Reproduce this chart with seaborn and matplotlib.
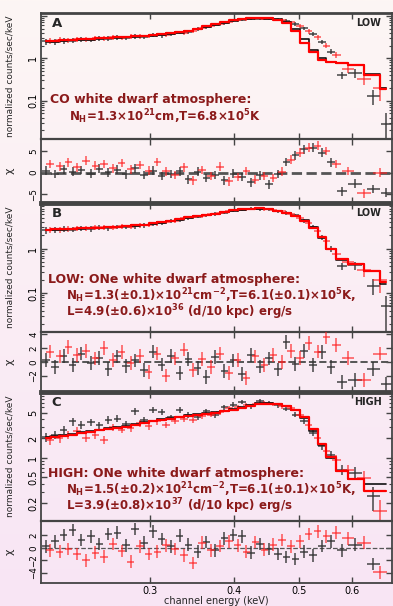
import numpy as np
import seaborn as sns
from matplotlib import pyplot as plt
from matplotlib.ticker import FixedLocator, FixedFormatter, NullLocator, LogLocator, NullFormatter

# channel energies (keV) of the two spectra (black / red)
energy_k = [0.210, 0.2165, 0.223, 0.230, 0.237, 0.245, 0.252, 0.260, 0.268, 0.276,
            0.285, 0.294, 0.303, 0.312, 0.322, 0.332, 0.342, 0.353, 0.364, 0.375,
            0.387, 0.399, 0.411, 0.424, 0.437, 0.451, 0.465, 0.479, 0.494, 0.509,
            0.525, 0.541, 0.558, 0.579, 0.606, 0.645, 0.675]
energy_r = [0.213, 0.220, 0.2265, 0.2335, 0.241, 0.2485, 0.256, 0.264, 0.272, 0.2805,
            0.2895, 0.2985, 0.3075, 0.317, 0.327, 0.337, 0.3475, 0.3585, 0.3695, 0.381,
            0.393, 0.405, 0.4175, 0.4305, 0.444, 0.458, 0.472, 0.4865, 0.5015, 0.517,
            0.533, 0.5495, 0.568, 0.592, 0.625, 0.660]
rel_err_k = [0.16, 0.15, 0.15, 0.14, 0.14, 0.13, 0.13, 0.13, 0.12, 0.12,
             0.12, 0.11, 0.11, 0.11, 0.10, 0.10, 0.10, 0.09, 0.09, 0.09,
             0.09, 0.08, 0.08, 0.08, 0.08, 0.08, 0.08, 0.09, 0.09, 0.10,
             0.11, 0.12, 0.14, 0.18, 0.22, 0.40, 0.75]
rel_err_r = [0.16, 0.15, 0.15, 0.14, 0.14, 0.13, 0.13, 0.13, 0.12, 0.12,
             0.12, 0.11, 0.11, 0.11, 0.10, 0.10, 0.10, 0.09, 0.09, 0.09,
             0.09, 0.08, 0.08, 0.08, 0.08, 0.08, 0.09, 0.09, 0.10, 0.11,
             0.12, 0.14, 0.17, 0.20, 0.30, 0.50]

# panel A: CO white dwarf atmosphere, LOW state
model_a_k = [2.43, 2.47, 2.56, 2.66, 2.71, 2.76, 2.86, 2.96, 3.02, 3.13,
             3.19, 3.30, 3.43, 3.55, 3.75, 4.03, 4.33, 4.83, 5.58, 6.11,
             6.94, 7.73, 8.31, 8.62, 8.78, 8.62, 8.31, 7.20, 5.00, 2.80,
             1.60, 1.00, 0.83, 0.78, 0.71, 0.42, 0.20]
model_a_r = [2.50, 2.54, 2.64, 2.74, 2.79, 2.84, 2.95, 3.05, 3.11, 3.22,
             3.29, 3.40, 3.53, 3.66, 3.86, 4.15, 4.46, 4.97, 5.75, 6.29,
             7.15, 7.96, 8.56, 8.88, 9.04, 8.88, 8.15, 6.94, 4.49, 2.26,
             1.39, 0.91, 0.80, 0.76, 0.68, 0.40, 0.19]
data_a_k = [2.50, 2.45, 2.62, 2.60, 2.75, 2.72, 2.95, 2.90, 3.10, 3.05,
            3.30, 3.15, 3.50, 3.45, 3.70, 4.10, 4.20, 4.90, 5.40, 6.20,
            6.80, 7.80, 8.20, 8.70, 8.60, 8.70, 8.20, 7.73, 6.45, 5.10,
            3.75, 2.47, 1.44, 0.40, 0.45, 0.129, 0.029]
data_a_r = [2.60, 2.70, 2.65, 2.85, 2.80, 2.95, 3.00, 3.10, 3.05, 3.25,
            3.30, 3.35, 3.50, 3.60, 3.90, 4.00, 4.50, 5.10, 5.70, 6.60,
            7.20, 8.00, 8.40, 8.80, 8.60, 8.50, 8.00, 7.00, 5.90, 4.30,
            3.10, 2.00, 1.20, 0.55, 0.33, 0.20]
chi_a_k = [0.5, -0.3, 0.8, 0.2, 0.6, -0.2, 0.9, 0.1, 0.7, -0.4,
           1.0, -0.5, 0.5, -0.8, -0.3, 0.3, -1.5, 0.2, -1.2, -0.5,
           -1.8, -0.2, -1.0, -2.2, -0.6, -2.7, -0.3, 2.5, 4.0, 5.4,
           5.8, 4.6, 2.4, -4.3, -2.5, -3.8, -4.6]
chi_a_r = [2.0, 1.5, 2.4, 1.2, 2.8, 1.6, 2.0, 1.0, 2.2, 0.8,
           1.8, 0.5, 2.5, 0.3, -0.5, 1.2, -1.8, 0.6, -0.8, 1.4,
           -2.0, -1.0, 0.4, -1.6, -0.8, -1.2, 0.2, 3.0, 4.6, 5.8,
           6.2, 5.0, 2.0, 0.4, -4.8, 0.0]

# panel B: ONe white dwarf atmosphere, LOW state
model_b_k = [2.57, 2.66, 2.70, 2.75, 2.80, 2.85, 2.90, 3.00, 3.05, 3.16,
             3.27, 3.39, 3.64, 3.83, 4.11, 4.48, 4.98, 5.34, 5.72, 6.03,
             6.58, 7.18, 7.57, 7.83, 7.97, 7.70, 7.18, 6.47, 5.53, 4.33,
             3.00, 1.78, 0.97, 0.55, 0.44, 0.31, 0.16]
model_b_r = [2.62, 2.71, 2.75, 2.81, 2.86, 2.91, 2.96, 3.06, 3.11, 3.22,
             3.34, 3.46, 3.71, 3.91, 4.19, 4.57, 5.08, 5.45, 5.83, 6.15,
             6.71, 7.32, 7.72, 7.99, 8.10, 7.80, 7.20, 6.40, 5.40, 4.20,
             2.95, 1.80, 1.00, 0.58, 0.45, 0.32, 0.18]
data_b_k = [2.60, 2.62, 2.75, 2.70, 2.85, 2.80, 2.95, 2.90, 3.10, 3.10,
            3.20, 3.35, 3.60, 3.75, 4.20, 4.40, 5.00, 5.30, 5.60, 6.10,
            6.50, 7.30, 7.50, 7.90, 7.80, 7.80, 7.00, 6.40, 5.60, 4.20,
            3.05, 1.80, 1.00, 0.40, 0.42, 0.147, 0.05]
data_b_r = [2.70, 2.65, 2.80, 2.90, 2.85, 3.00, 3.05, 2.95, 3.20, 3.15,
            3.40, 3.50, 3.70, 4.00, 4.30, 4.80, 5.20, 5.40, 5.90, 6.40,
            6.90, 7.40, 7.80, 7.90, 7.80, 7.40, 6.90, 6.10, 5.00, 3.70,
            2.50, 1.45, 0.75, 0.50, 0.33, 0.20]
chi_b_k = [0.3, -0.8, 0.9, -0.5, 1.2, -0.2, 0.6, -1.0, 0.8, -0.6,
           0.2, -1.2, 1.5, -0.4, 0.9, -1.6, 0.4, -0.9, -2.2, 0.7,
           -1.3, 0.2, -1.8, 1.0, -0.7, 0.5, -1.1, 2.9, -0.3, 1.6,
           -0.5, 1.4, -0.8, -2.9, -2.6, -1.0, -3.2]
chi_b_r = [1.5, 0.8, 2.2, 1.0, 1.6, 0.5, 2.0, 0.3, 1.4, -0.2,
           0.9, -1.5, 1.2, -2.0, 0.5, 1.8, -1.2, 0.4, -0.8, 1.2,
           -1.6, 0.3, -2.4, 0.8, -0.5, 1.0, 0.0, 1.6, 0.6, 2.8,
           1.5, 3.6, 2.5, 0.6, -2.6, 1.2]

# panel C: ONe white dwarf atmosphere, HIGH state
model_c_k = [2.08, 2.16, 2.26, 2.37, 2.49, 2.61, 2.74, 2.87, 2.97, 3.12,
             3.30, 3.55, 3.77, 3.95, 4.14, 4.34, 4.55, 4.77, 4.94, 5.12,
             5.37, 5.70, 6.11, 6.64, 6.97, 7.05, 6.80, 6.34, 5.50, 4.14,
             2.64, 1.57, 1.00, 0.62, 0.48, 0.39, 0.39]
model_c_r = [2.02, 2.10, 2.19, 2.30, 2.42, 2.53, 2.66, 2.78, 2.88, 3.03,
             3.20, 3.44, 3.66, 3.83, 4.02, 4.21, 4.41, 4.63, 4.79, 4.97,
             5.21, 5.53, 5.93, 6.44, 6.76, 6.84, 6.70, 6.30, 5.55, 4.25,
             2.75, 1.62, 1.02, 0.63, 0.47, 0.31, 0.31]
data_c_k = [2.08, 2.29, 2.74, 3.68, 3.27, 3.59, 3.19, 3.90, 4.04, 3.34,
            5.24, 3.90, 5.56, 5.12, 4.24, 5.50, 4.66, 4.24, 5.24, 4.55,
            6.04, 6.64, 7.30, 6.27, 7.47, 7.05, 6.49, 5.76, 4.66, 3.68,
            2.43, 1.51, 1.12, 0.66, 0.59, 0.257, np.nan]
data_c_r = [1.92, 2.03, 2.29, 2.64, 2.03, 2.29, 1.92, 2.97, 2.74, 2.90,
            3.47, 3.08, 3.68, 3.27, 3.77, 4.04, 3.90, 4.39, 4.66, 5.12,
            5.90, 6.04, 6.49, 6.80, 7.05, 6.80, 6.27, 5.90, 4.66, 3.27,
            2.03, 1.27, 0.94, 0.66, 0.49, 0.151]
chi_c_k = [0.2, 1.0, 2.0, 2.8, 1.2, 1.8, 0.6, 2.2, 2.4, 0.4,
           3.0, 0.8, 2.6, 1.4, 0.2, 1.9, 0.5, -0.6, 0.9, -0.4,
           1.5, 2.0, 1.8, -0.8, 0.6, -0.2, -1.0, -1.5, -1.8, -0.6,
           -1.2, 0.3, 1.0, -0.4, 0.5, -2.6, np.nan]
chi_c_r = [-0.4, -0.6, -0.2, -1.0, -2.0, -0.8, -1.4, 0.6, -0.5, -2.2,
           0.2, -1.0, -0.6, 0.4, -0.2, -1.2, -2.4, 0.8, -0.4, 0.3,
           1.0, 0.4, -0.6, 0.9, -0.3, 0.5, 1.2, 0.2, 1.0, 2.2,
           2.6, 1.8, 2.4, 1.5, 0.8, -3.9]

x_ticks = [0.3, 0.4, 0.5, 0.6]

W, H = 393, 606
DARK = '#8b1a1a'
BLK = '#333333'
RED = '#ff2020'

sns.set_theme(style='ticks')
plt.rcParams['font.family'] = ['DejaVu Sans']
plt.rcParams['axes.edgecolor'] = '#444444'


def half_widths(e):
    e = np.asarray(e)
    lg = np.log10(e)
    d = np.gradient(lg)
    return [e - 10 ** (lg - 0.42 * d), 10 ** (lg + 0.42 * d) - e]


def px_axes(fig, top, bottom):
    return fig.add_axes([41 / W, 1 - bottom / H, 351 / W, (bottom - top) / H])


def style_axes(ax, top_lw, ysize):
    ax.set_facecolor('none')
    for s in ax.spines.values():
        s.set_linewidth(1.3)
        s.set_color('#444444')
    ax.spines['top'].set_linewidth(top_lw)
    ax.tick_params(which='both', direction='in', top=True, right=True,
                   colors='#444444', labelcolor='black', labelsize=7, pad=2)
    ax.tick_params(axis='y', labelsize=ysize)
    ax.tick_params(which='major', length=4, width=1)
    ax.tick_params(which='minor', length=2, width=0.8)
    ax.tick_params(axis='y', labelrotation=90)
    for lab in ax.get_yticklabels():
        lab.set_va('center')


def draw_panel(fig, top, mid, bottom, models, spectra, chis, ylim, yticks, ylabels,
               rlim, rticks, letter, tag, zero_lw, top_lw, last=False):
    ax = px_axes(fig, top, mid)
    rax = px_axes(fig, mid, bottom)
    xe_k = half_widths(energy_k)
    xe_r = half_widths(energy_r)

    dk = np.asarray(spectra[0])
    dr = np.asarray(spectra[1])
    ax.errorbar(energy_k, dk, xerr=xe_k, yerr=dk * np.asarray(rel_err_k), fmt='none',
                ecolor=BLK, elinewidth=1.1, alpha=0.9, zorder=2)
    ax.errorbar(energy_r, dr, xerr=xe_r, yerr=dr * np.asarray(rel_err_r), fmt='none',
                ecolor=RED, elinewidth=1.1, alpha=0.75, zorder=3)
    sns.lineplot(x=energy_k, y=models[0], drawstyle='steps-mid', color='#111111',
                 lw=1.2, estimator=None, ax=ax, zorder=4)
    sns.lineplot(x=energy_k, y=models[1], drawstyle='steps-mid', color='#ff0000',
                 lw=1.6, estimator=None, ax=ax, zorder=5)

    rax.errorbar(energy_k, chis[0], xerr=xe_k, yerr=1, fmt='none',
                 ecolor=BLK, elinewidth=1.1, alpha=0.9, zorder=2)
    rax.errorbar(energy_r, chis[1], xerr=xe_r, yerr=1, fmt='none',
                 ecolor=RED, elinewidth=1.1, alpha=0.75, zorder=3)
    rax.axhline(0, ls='--', color='#555555', lw=zero_lw, zorder=1)

    for a in (ax, rax):
        a.set_xscale('log')
        a.set_xlim(0.2063, 0.688)
        a.xaxis.set_major_locator(FixedLocator(x_ticks))
        a.xaxis.set_minor_locator(NullLocator())
    ax.set_yscale('log')
    ax.set_ylim(*ylim)
    ax.yaxis.set_major_locator(FixedLocator(yticks))
    ax.yaxis.set_major_formatter(FixedFormatter(ylabels))
    ax.yaxis.set_minor_locator(LogLocator(subs=np.arange(2, 10)))
    ax.yaxis.set_minor_formatter(NullFormatter())
    ax.xaxis.set_major_formatter(NullFormatter())
    rax.set_ylim(*rlim)
    rax.yaxis.set_major_locator(FixedLocator(rticks))
    if last:
        rax.xaxis.set_major_formatter(FixedFormatter([str(t) for t in x_ticks]))
        rax.set_xlabel('channel energy (keV)', fontsize=7, labelpad=0)
    else:
        rax.xaxis.set_major_formatter(NullFormatter())

    ax.set_ylabel('normalized counts/sec/keV', fontsize=6.5)
    ax.yaxis.set_label_coords(-26 / 351, 0.5)
    rax.set_ylabel('χ', fontsize=8)
    rax.yaxis.set_label_coords(-26 / 351, 0.5)
    ax.set_xlabel('')

    style_axes(ax, top_lw, 7)
    style_axes(rax, 1.6, 6.3)
    ax.text(0.03, 0.92, letter, transform=ax.transAxes, fontsize=9.5,
            fontweight='bold', va='center', ha='left')
    ax.text(0.97, 0.92, tag, transform=ax.transAxes, fontsize=7,
            fontweight='bold', va='center', ha='right')
    return ax, rax


fig = plt.figure(figsize=(W / 100, H / 100), dpi=100)
bg = fig.add_axes([0, 0, 1, 1], zorder=-10)
top_col = np.array([253, 246, 244]) / 255
bot_col = np.array([248, 229, 245]) / 255
t = np.linspace(0, 1, 256)[:, None, None]
bg.imshow(top_col * (1 - t) + bot_col * t, aspect='auto', extent=[0, 1, 0, 1])
bg.axis('off')

draw_panel(fig, 13.3, 139.3, 203, (model_a_k, model_a_r), (data_a_k, data_a_r),
           (chi_a_k, chi_a_r), (0.0123, 11.5), [0.1, 1, 10], ['0.1', '1', ''],
           (-7.0, 7.7), [-5, 0, 5], 'A', 'LOW', 2.0, 2.0)
draw_panel(fig, 203, 331.7, 392, (model_b_k, model_b_r), (data_b_k, data_b_r),
           (chi_b_k, chi_b_r), (0.0134, 10.7), [0.1, 1, 10], ['0.1', '1', ''],
           (-4.4, 4.4), [-2, 0, 2, 4], 'B', 'LOW', 1.4, 3.5)
draw_panel(fig, 392, 521.3, 583, (model_c_k, model_c_r), (data_c_k, data_c_r),
           (chi_c_k, chi_c_r), (0.1056, 10.4), [0.2, 0.5, 1, 2, 5],
           ['0.2', '0.5', '1', '2', '5'], (-5.6, 4.2), [-4, -2, 0, 2],
           'C', 'HIGH', 0.9, 3.5, last=True)


def label(x, y, s, size=8.5, spacing=1.0):
    fig.text(x / W, 1 - y / H, s, color=DARK, fontsize=size, fontweight='bold',
             ha='left', va='center', linespacing=spacing)


label(50, 100, 'CO white dwarf atmosphere:', 9)
label(69, 117, r'N$_{\mathbf{H}}$=1.3×10$^{\mathbf{21}}$cm,T=6.8×10$^{\mathbf{5}}$K')
label(48, 280, 'LOW: ONe white dwarf atmosphere:', 9)
label(66, 304.5,
      r'N$_{\mathbf{H}}$=1.3(±0.1)×10$^{\mathbf{21}}$cm$^{\mathbf{-2}}$,T=6.1(±0.1)×10$^{\mathbf{5}}$K,'
      '\n' r'L=4.9(±0.6)×10$^{\mathbf{36}}$ (d/10 kpc) erg/s', spacing=0.8)
label(48, 474, 'HIGH: ONe white dwarf atmosphere:', 9)
label(66, 498.5,
      r'N$_{\mathbf{H}}$=1.5(±0.2)×10$^{\mathbf{21}}$cm$^{\mathbf{-2}}$,T=6.1(±0.1)×10$^{\mathbf{5}}$K,'
      '\n' r'L=3.9(±0.8)×10$^{\mathbf{37}}$ (d/10 kpc) erg/s', spacing=0.8)

fig.savefig('out.png', dpi=100)
